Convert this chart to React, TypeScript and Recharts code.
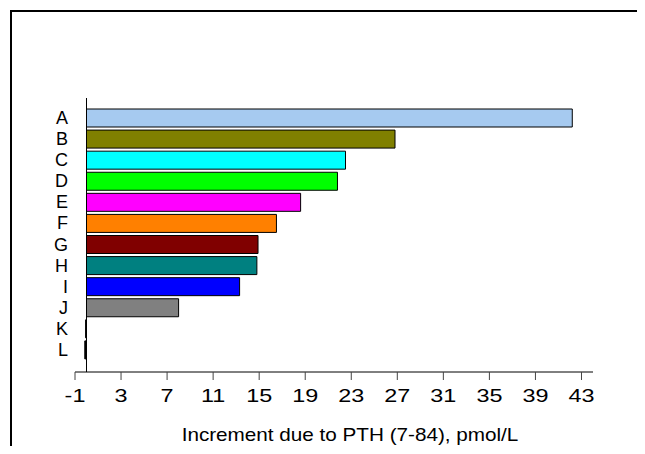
import React from "react";
import { BarChart, Bar, XAxis, YAxis, Cell, ReferenceLine } from "recharts";

const categories = ["A", "B", "C", "D", "E", "F", "G", "H", "I", "J", "K", "L"];
const increments = [42.2, 26.8, 22.5, 21.8, 18.6, 16.5, 14.9, 14.8, 13.3, 8.0, -0.08, -0.15];
const barColors = [
  "#a6caf0", "#808000", "#00ffff", "#00ff00", "#ff00ff", "#ff8000",
  "#800000", "#008080", "#0000ff", "#808080", "#000000", "#000000",
];
const xTicks = [-1, 3, 7, 11, 15, 19, 23, 27, 31, 35, 39, 43];
const xTitle = "Increment due to PTH (7-84), pmol/L";

const FONT = '"Liberation Sans", Arial, sans-serif';

const chartData = categories.map((name, i) => ({ name, value: increments[i] }));

/** x tick labels are drawn a bit wider than normal, like the source picture */
function XTick(props: any) {
  const { x, y, payload } = props;
  return (
    <g transform={`translate(${x},${y}) scale(1.3,1)`}>
      <text x={0} y={18} textAnchor="middle" fontSize={18} fontFamily={FONT} fill="#000">
        {payload.value}
      </text>
    </g>
  );
}

function YTick(props: any) {
  const { x, y, payload } = props;
  return (
    <text x={x} y={y} dy="0.36em" textAnchor="end" fontSize={18} fontFamily={FONT} fill="#000">
      {payload.value}
    </text>
  );
}

export default function App(): React.JSX.Element {
  return (
    <div style={{ position: "relative", width: 645, height: 454, margin: -8, background: "#fff" }}>
      <BarChart
        width={645}
        height={454}
        data={chartData}
        layout="vertical"
        margin={{ top: 98, right: 52, bottom: 12, left: 45 }}
        barSize={18}
      >
        <XAxis
          type="number"
          domain={[-1, 44]}
          ticks={xTicks}
          allowDataOverflow
          height={70}
          stroke="#000"
          tickSize={8}
          tickMargin={4}
          tickLine={{ stroke: "#444" }}
          tick={<XTick />}
        />
        <YAxis
          type="category"
          dataKey="name"
          width={30}
          axisLine={false}
          tickLine={false}
          tickSize={0}
          tickMargin={7}
          padding={{ top: 9, bottom: 12 }}
          interval={0}
          tick={<YTick />}
        />
        <ReferenceLine x={0} stroke="#000" strokeWidth={1} />
        <Bar dataKey="value" stroke="#000" strokeWidth={1} isAnimationActive={false}>
          {chartData.map((entry, i) => (
            <Cell key={`cell-${entry.name}`} fill={barColors[i]} />
          ))}
        </Bar>
      </BarChart>
      <svg
        width={645}
        height={454}
        style={{ position: "absolute", left: 0, top: 0, pointerEvents: "none" }}
      >
        <path d="M11 454 V11 H645" fill="none" stroke="#000" strokeWidth={2} />
        <g transform="translate(350,441) scale(1.15,1)">
          <text x={0} y={0} textAnchor="middle" fontSize={18} fontFamily={FONT} fill="#000">
            {xTitle}
          </text>
        </g>
      </svg>
    </div>
  );
}
